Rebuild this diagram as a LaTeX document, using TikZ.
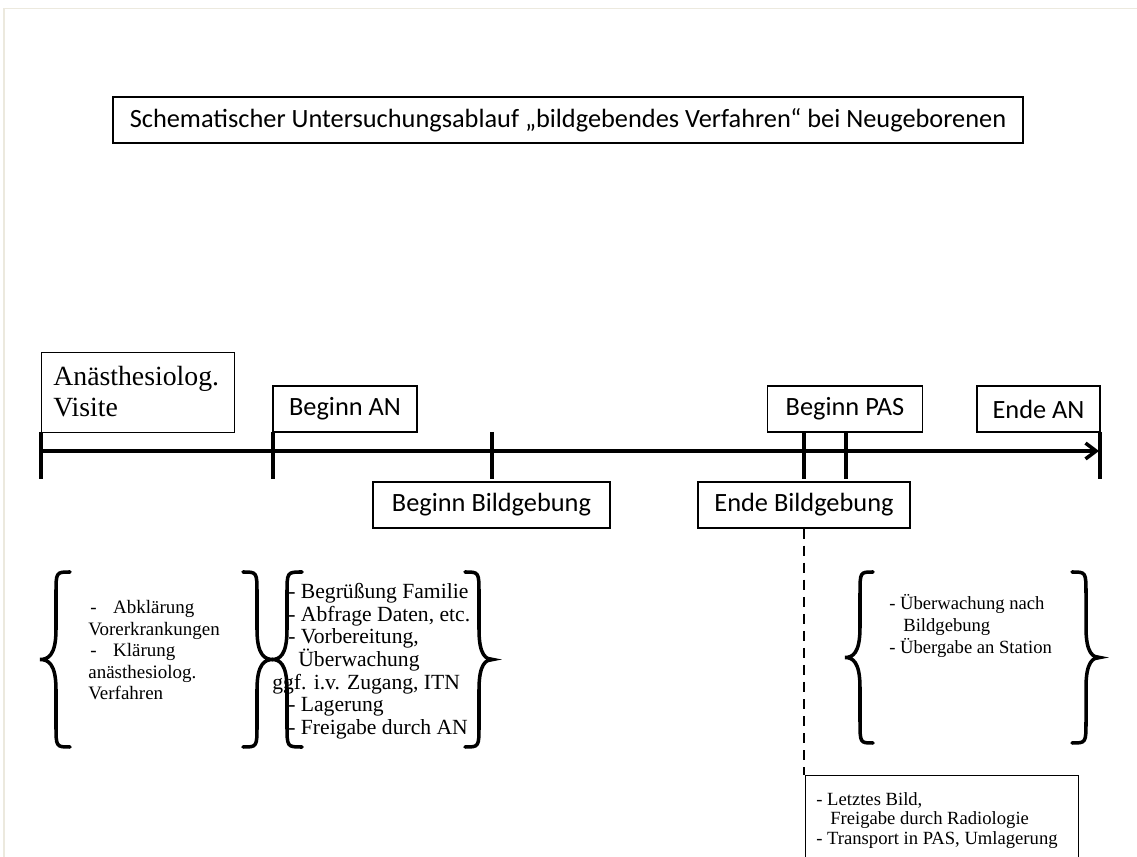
\documentclass[tikz,border=0pt]{standalone}
\usepackage{fontspec}
\setmainfont{Liberation Serif}
\newfontfamily\carlito{Carlito}
\usetikzlibrary{arrows.meta}
\definecolor{framecol}{RGB}{236,233,222}
% curly brace: xend, xvertical, xtip, ytop, ybottom
\newcommand{\curly}[5]{%
  \draw[curlystroke] (#1,#4) .. controls (#2,#4) .. (#2,#4+22)
    -- (#2,{(#4+#5)/2-30}) .. controls (#2,{(#4+#5)/2-4}) and ({(#2+#3)/2},{(#4+#5)/2}) .. (#3,{(#4+#5)/2})
    .. controls ({(#2+#3)/2},{(#4+#5)/2}) and (#2,{(#4+#5)/2+4}) .. (#2,{(#4+#5)/2+30})
    -- (#2,#5-22) .. controls (#2,#5) .. (#1,#5);}
\tikzset{
  lbl/.style={draw, line width=0.7pt, font=\carlito\fontsize{15}{18}\selectfont,
    inner sep=0pt, minimum height=0.92cm},
  axis/.style={line width=2pt},
  curlystroke/.style={line width=2pt, line cap=round},
  dashline/.style={line width=1.7pt, dash pattern=on 5.7pt off 4pt},
  txt/.style={inner sep=0pt, align=left, anchor=base west},
}
\begin{document}
\begin{tikzpicture}[x=0.02cm, y=-0.02cm]
\useasboundingbox (0,0) rectangle (1137,857);
\clip (0,0) rectangle (1137,857);
\fill[white] (0,0) rectangle (1137,857);
\draw[framecol, line width=1.1pt] (4,857) -- (4,8.5) -- (1137,8.5);

% title
\node[lbl, minimum width=18.2cm] (title) at (568,120)
  {Schematischer Untersuchungsablauf „bildgebendes Verfahren“ bei Neugeborenen};

% upper labels
\node[draw, line width=0.7pt, anchor=north west, minimum width=3.86cm, minimum height=1.6cm,
  inner sep=0pt] (visite) at (41,352) {};
\node[txt, font=\fontsize{15.8}{18.1}\selectfont] (visitetext) at (53,417) {Anästhesiolog.\\Visite};
\node[lbl, minimum width=2.88cm] (beginAN) at (345,409) {Beginn AN};
\node[lbl, minimum width=3.1cm] (beginPAS) at (845,409) {Beginn PAS};
\node[lbl, minimum width=2.46cm] (endeAN) at (1038.5,409) {Ende AN};

% lower labels
\node[lbl, minimum width=4.74cm] (beginBild) at (491.5,505) {Beginn Bildgebung};
\node[lbl, minimum width=4.24cm] (endeBild) at (804,505) {Ende Bildgebung};

% timeline
\coordinate (t0) at (41,451);
\coordinate (t1) at (1099,451);
\draw[axis, -{Straight Barb[length=6pt,width=9pt]}] (t0) -- (t1);
\foreach \x in {41,273,492,804,846,1100} {
  \draw[axis] (\x,432) -- (\x,479);
}

% bottom box
\node[draw, line width=0.7pt, anchor=north west, minimum width=5.46cm, minimum height=2cm,
  inner sep=0pt] (lastbox) at (805,775) {};
\node[txt, font=\fontsize{10.6}{11.2}\selectfont] (lasttext) at (816,844.5)
  {- Letztes Bild,\\\hspace*{0.28cm}Freigabe durch Radiologie\\- Transport in PAS, Umlagerung};
\draw[dashline] (endeBild.south) -- (endeBild.south |- lastbox.north);

% braces
\curly{70}{56}{40}{572}{747}
\curly{243}{257}{273}{572}{747}
\curly{302}{287}{272}{572}{747}
\curly{465}{479}{493}{572}{747}
\curly{873}{860}{845}{572}{743}
\curly{1072}{1086}{1100}{572}{743}

% brace texts
\node[txt, font=\fontsize{10.8}{12.3}\selectfont] (lefttext) at (88,700)
  {\hspace*{0.04cm}-\hspace{0.33cm}Abklärung\\Vorerkrankungen\\\hspace*{0.04cm}-\hspace{0.33cm}Klärung\\anästhesiolog.\\Verfahren};
\node[txt, font=\fontsize{12.3}{12.9}\selectfont] (midtext) at (272,734.5)
  {\hspace*{0.32cm}- Begrüßung Familie\\\hspace*{0.32cm}- Abfrage Daten, etc.\\\hspace*{0.32cm}- Vorbereitung,\\\hspace*{0.52cm}Überwachung\\ggf. i.v. Zugang, ITN\\\hspace*{0.32cm}- Lagerung\\\hspace*{0.32cm}- Freigabe durch AN};
\node[txt, font=\fontsize{10.6}{12.7}\selectfont] (righttext) at (889,654)
  {- Überwachung nach\\\hspace*{0.28cm}Bildgebung\\- Übergabe an Station};
\end{tikzpicture}
\end{document}
